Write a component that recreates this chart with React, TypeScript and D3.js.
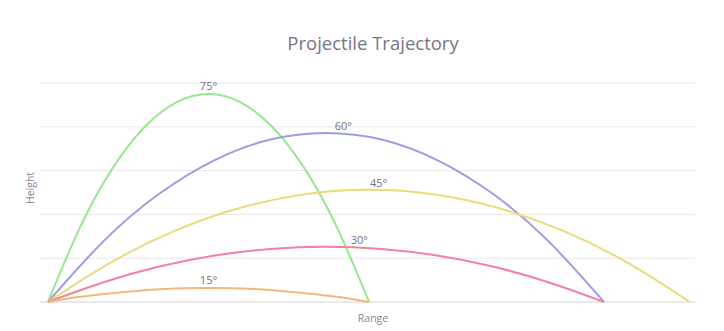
import React from "react";
import * as d3 from "d3";

const W = 724;
const H = 331;

// Angles (degrees) and the trajectory points (range, height)
const angles = [75, 60, 45, 30, 15];
const colors = ["#97e88c", "#9d9de3", "#eadb78", "#f2839a", "#f4c36f"];

const xs75 = [0, 5, 10, 15, 20, 25, 30, 35, 40, 45, 50];
const ys75 = [0, 17.1, 30.4, 39.9, 45.6, 47.5, 45.6, 39.9, 30.4, 17.1, 0];

const xs60 = [0, 8.66, 17.32, 25.98, 34.64, 43.3, 51.96, 60.62, 69.28, 77.94, 86.6];
const ys60 = [0, 13.9, 24.7, 32.4, 37.1, 38.6, 37.1, 32.4, 24.7, 13.9, 0];

const xs45 = [0, 10, 20, 30, 40, 50, 60, 70, 80, 90, 100];
const ys45 = [0, 9.2, 16.4, 21.5, 24.6, 25.6, 24.6, 21.5, 16.4, 9.2, 0];

const xs30 = [0, 8.66, 17.32, 25.98, 34.64, 43.3, 51.96, 60.62, 69.28, 77.94, 86.6];
const ys30 = [0, 4.5, 8.1, 10.6, 12.1, 12.6, 12.1, 10.6, 8.1, 4.5, 0];

const xs15 = [0, 5, 10, 15, 20, 25, 30, 35, 40, 45, 50];
const ys15 = [0, 1.2, 2.0, 2.7, 3.1, 3.2, 3.1, 2.7, 2.0, 1.2, 0];

const seriesX = [xs75, xs60, xs45, xs30, xs15];
const seriesY = [ys75, ys60, ys45, ys30, ys15];

// label anchor x (data units) for each angle label
const labelX = [25, 46, 51.5, 48.5, 25];

const yTicks = [0, 10, 20, 30, 40, 50];

export default function App() {
  const x = d3.scaleLinear().domain([0, 100]).range([48, 690]);
  const y = d3.scaleLinear().domain([0, 50]).range([302, 83]);
  const line = d3
    .line<[number, number]>()
    .x((d) => x(d[0]))
    .y((d) => y(d[1]))
    .curve(d3.curveNatural);

  const font = "'Open Sans', 'DejaVu Sans', sans-serif";

  return (
    <svg
      width={W}
      height={H}
      style={{ position: "absolute", left: 0, top: 0, background: "#fff" }}
      fontFamily={font}
    >
      <rect x={0} y={0} width={W} height={H} fill="#fff" />
      {yTicks.map((t) => (
        <line
          key={t}
          x1={40}
          x2={695}
          y1={y(t)}
          y2={y(t)}
          stroke={t === 0 ? "#e2e2e2" : "#e8e8e8"}
          strokeWidth={t === 0 ? 1.5 : 1}
        />
      ))}
      <text
        x={373}
        y={50}
        textAnchor="middle"
        fontSize={18.5}
        fill="#7a7585"
      >
        Projectile Trajectory
      </text>
      <text
        transform={`translate(34,188) rotate(-90)`}
        textAnchor="middle"
        fontSize={10.5}
        fill="#8a8494"
      >
        Height
      </text>
      <text x={373} y={322} textAnchor="middle" fontSize={10.5} fill="#8a8494">
        Range
      </text>
      {angles.map((a, i) => {
        const pts = seriesX[i].map((v, j) => [v, seriesY[i][j]] as [number, number]);
        const d = line(pts) || "";
        return (
          <g key={a}>
            <path d={d} fill="none" stroke={colors[i]} strokeWidth={2} />
            {a === 15 && (
              <path
                d={d}
                fill="none"
                stroke="#f093a8"
                strokeWidth={1.3}
                strokeDasharray="1 2"
              />
            )}
          </g>
        );
      })}
      {angles.map((a, i) => {
        const lx = labelX[i];
        const ly = d3.max(seriesY[i]) as number;
        const yAt = (() => {
          const xsI = seriesX[i];
          const ysI = seriesY[i];
          for (let j = 0; j < xsI.length - 1; j++) {
            if (lx >= xsI[j] && lx <= xsI[j + 1]) {
              const f = (lx - xsI[j]) / (xsI[j + 1] - xsI[j]);
              return ysI[j] + f * (ysI[j + 1] - ysI[j]);
            }
          }
          return ly;
        })();
        return (
          <text
            key={a}
            x={x(lx)}
            y={y(Math.max(yAt, ly - 0.3)) - 4}
            textAnchor="middle"
            fontSize={11}
            fill="#746e80"
          >
            {a}°
          </text>
        );
      })}
    </svg>
  );
}
